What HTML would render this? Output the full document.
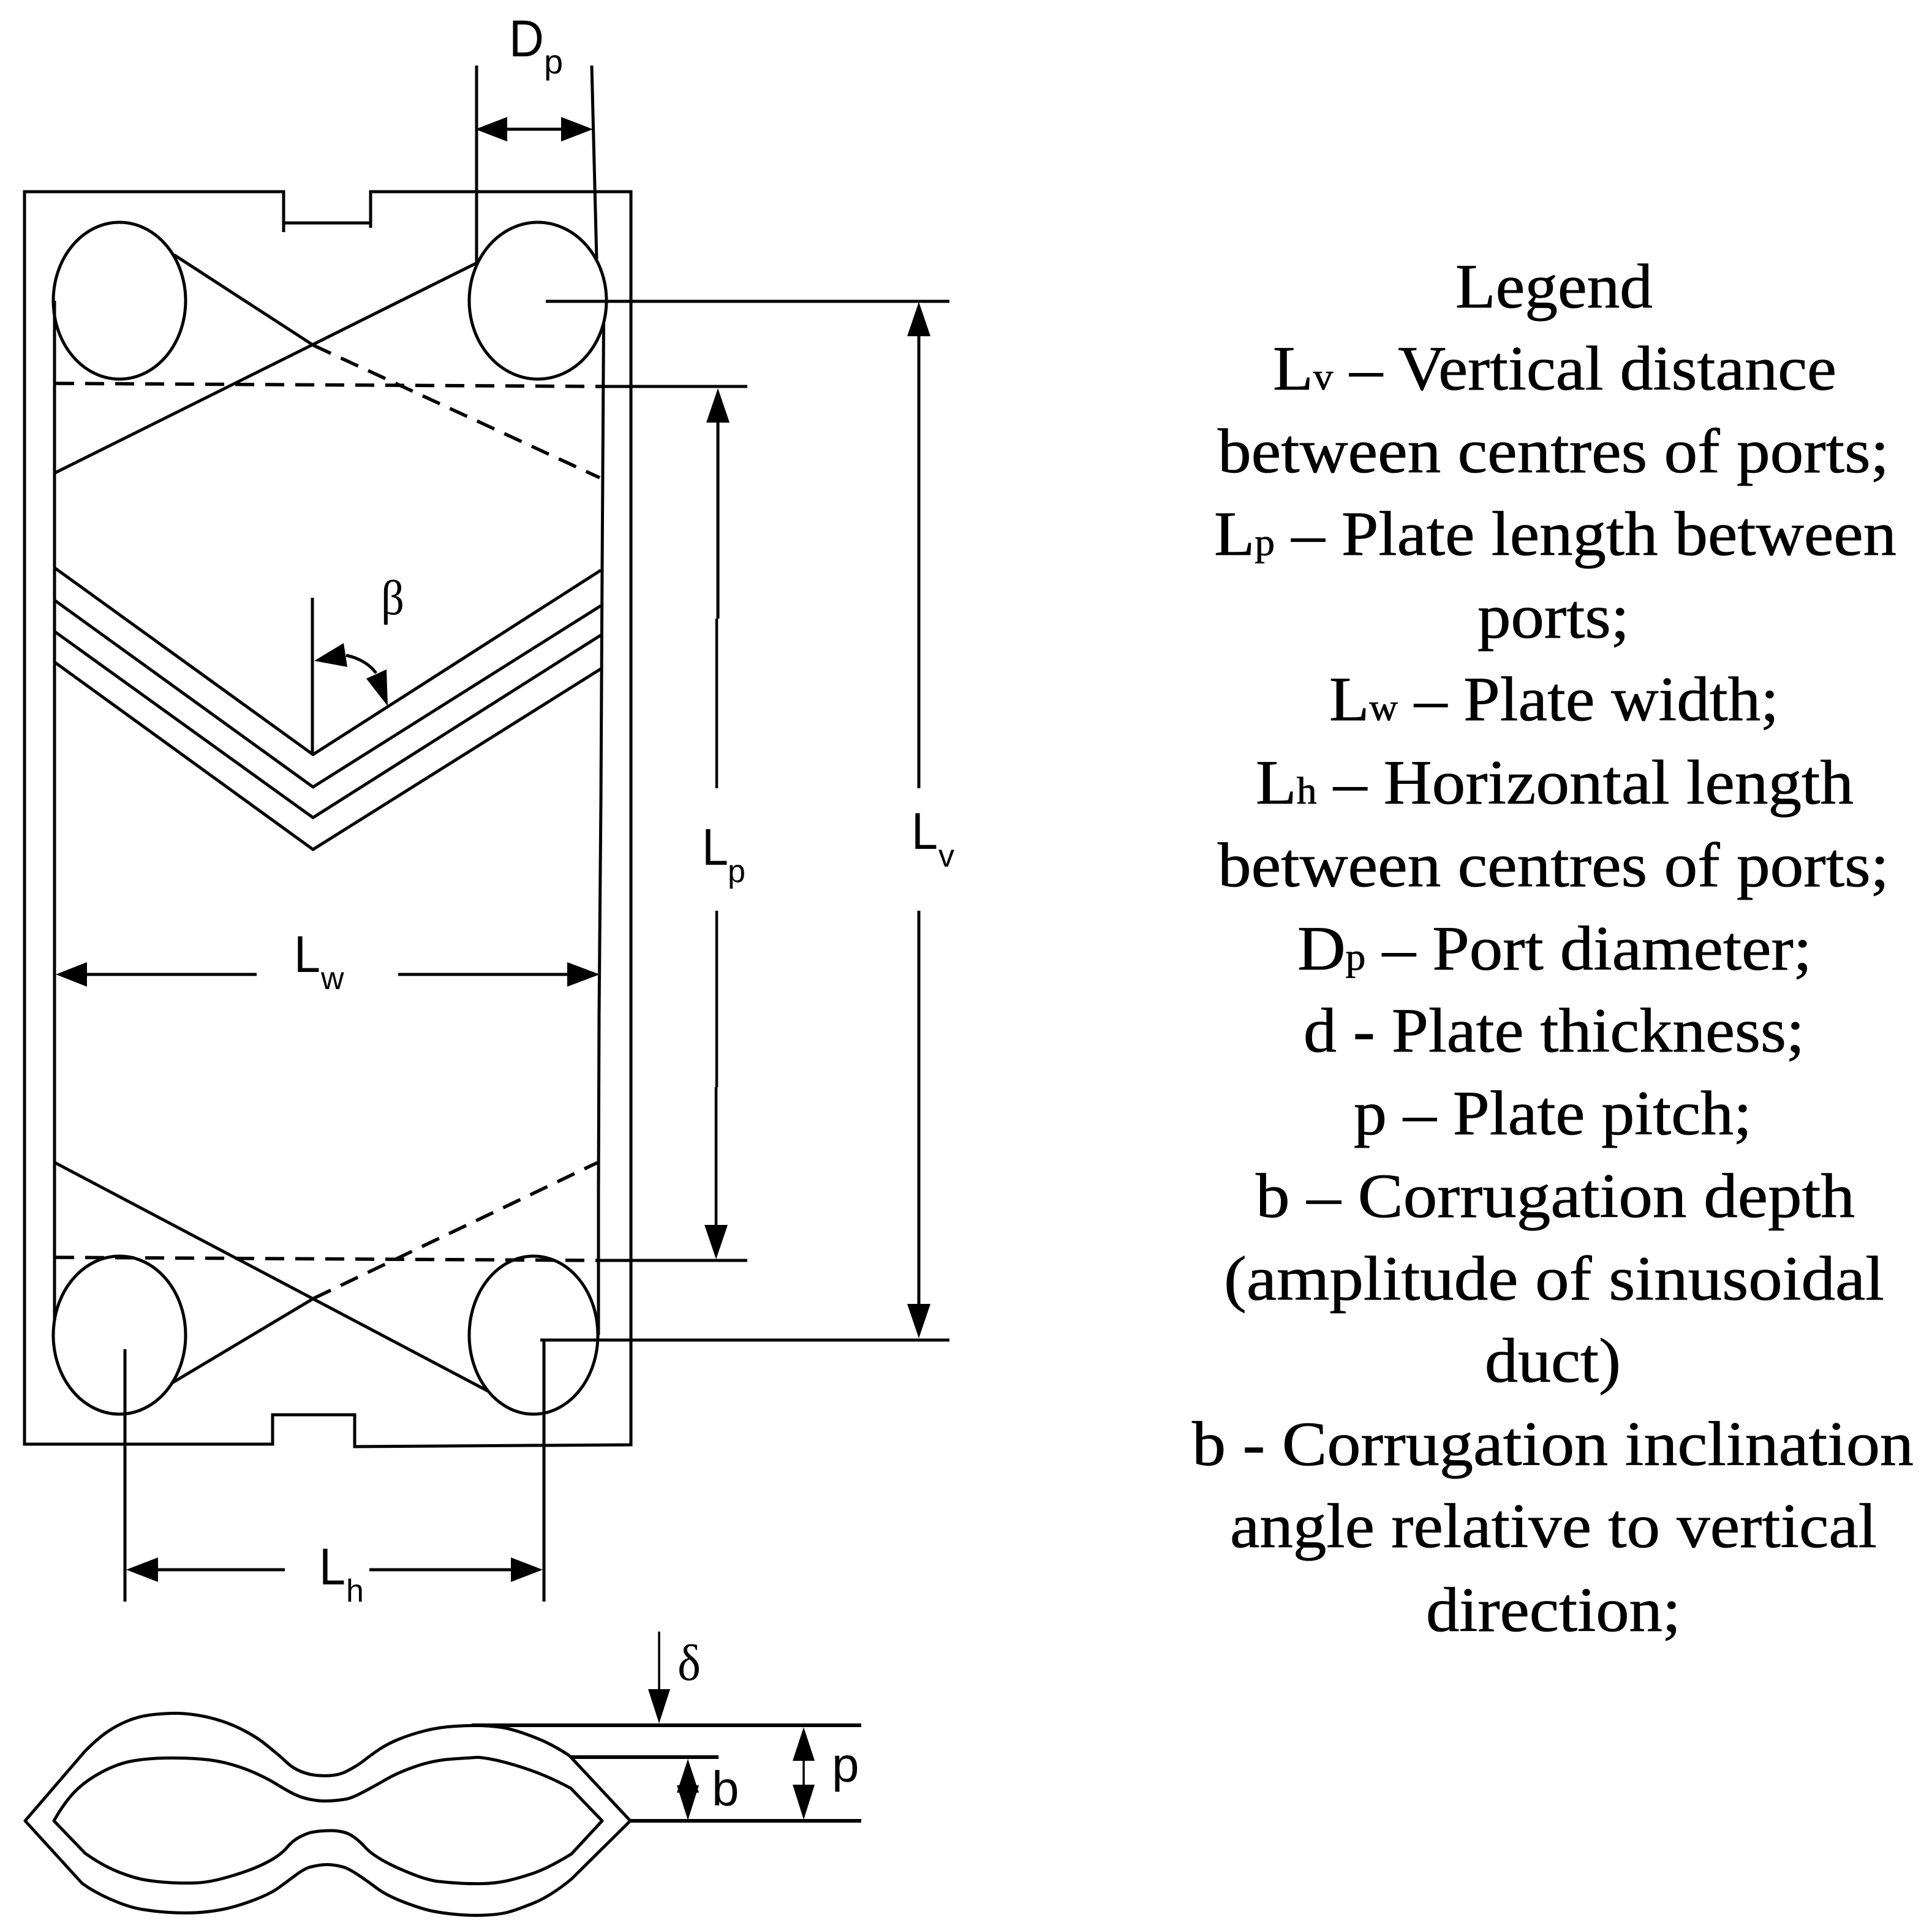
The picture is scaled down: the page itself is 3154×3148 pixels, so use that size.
<!DOCTYPE html>
<html>
<head>
<meta charset="utf-8">
<style>
html,body{margin:0;padding:0;background:#fff;}
svg{display:block;}
.s{fill:none;stroke:#000;stroke-width:5;stroke-linejoin:miter;}
.c{fill:none;stroke:#000;stroke-width:5;stroke-linejoin:round;}
.d{fill:none;stroke:#000;stroke-width:5.5;stroke-dasharray:31 18;}
.a{fill:#000;stroke:none;}
.t{font-family:"Liberation Sans",Arial,sans-serif;fill:#000;}
.g{font-family:"Liberation Serif",serif;fill:#000;}
.l{font-family:"Liberation Serif",serif;font-size:103px;fill:#000;stroke:#000;stroke-width:0.8px;}
.l tspan{font-size:62px;}
</style>
</head>
<body>
<svg width="3154" height="3148" viewBox="0 0 3154 3148" xmlns="http://www.w3.org/2000/svg">
<rect width="3154" height="3148" fill="#fff"/>

<!-- outer plate -->
<path class="s" d="M463 379 V313 H40 V2358 H445 V2310 H579 V2362 L1030 2359 V313 H605 V372 M463 364 H605"/>

<!-- inner side lines -->
<path class="s" d="M89 491 V2156"/>
<path class="s" d="M985.5 526 L983 930 L981 1306 L978 1657 L977 1950 L977 2180"/>

<!-- ports -->
<ellipse class="s" cx="195" cy="491" rx="108" ry="128"/>
<ellipse class="s" cx="878" cy="491" rx="112" ry="128"/>
<ellipse class="s" cx="195" cy="2180" rx="108" ry="129"/>
<ellipse class="s" cx="871" cy="2180" rx="105" ry="129"/>

<!-- top gasket lines -->
<path class="s" d="M284 416 L512 564"/>
<path class="d" d="M512 564 L979 780"/>
<path class="s" d="M779 429 L90 772"/>
<path class="d" d="M90 626 L982 631"/>
<path class="s" d="M982 631 H1220"/>

<!-- bottom gasket lines -->
<path class="s" d="M89 1898 L796 2271"/>
<path class="s" d="M281 2258 L512 2120"/>
<path class="d" d="M512 2120 L976 1898"/>
<path class="d" d="M90 2053 L975 2058"/>
<path class="s" d="M975 2058 H1220"/>

<!-- chevrons -->
<path class="s" d="M89 927 L511 1232 L981 931"/>
<path class="s" d="M89 980 L511 1285 L981 989"/>
<path class="s" d="M89 1031 L511 1335 L981 1037"/>
<path class="s" d="M89 1081 L511 1387 L981 1092"/>

<!-- beta -->
<path class="s" d="M510 976 V1232"/>
<path class="s" d="M565 1070 C585 1074 603 1084 614 1099"/>
<polygon class="a" points="513,1079 561,1050 567,1089"/>
<polygon class="a" points="633,1153 631,1093 598,1108"/>
<text class="g" x="622" y="1003" font-size="80" textLength="38" lengthAdjust="spacingAndGlyphs">β</text>

<!-- Dp -->
<path class="s" d="M778 107 V429"/>
<path class="s" d="M966 107 L974 423"/>
<path class="s" d="M820 211 H925"/>
<polygon class="a" points="776,211 828,191 828,231"/>
<polygon class="a" points="968,211 916,191 916,231"/>
<text class="t" x="831" y="92" font-size="84" textLength="57" lengthAdjust="spacingAndGlyphs">D</text>
<text class="t" x="888" y="120" font-size="56">p</text>

<!-- Lw -->
<path class="s" d="M130 1591 H419 M650 1591 H935"/>
<polygon class="a" points="91,1591 142,1571 142,1611"/>
<polygon class="a" points="979,1591 926,1571 926,1611"/>
<text class="t" x="480" y="1587" font-size="84" textLength="43" lengthAdjust="spacingAndGlyphs">L</text>
<text class="t" x="524" y="1615" font-size="52">w</text>

<!-- Lp -->
<path d="M1172 680 V1010" stroke="#000" stroke-width="5" fill="none"/>
<path class="s" d="M1170 1010 V1287 M1170 1487 V1775 M1169 1775 V2010" style="stroke-width:4.5"/>
<polygon class="a" points="1172,634 1153,690 1191,690"/>
<polygon class="a" points="1169,2056 1150,2000 1188,2000"/>
<text class="t" x="1146" y="1412" font-size="84" textLength="43" lengthAdjust="spacingAndGlyphs">L</text>
<text class="t" x="1188" y="1440" font-size="52">p</text>

<!-- Lv -->
<path class="s" d="M891 492 H1550"/>
<path d="M1500 540 V1287 M1500 1487 V2140" stroke="#000" stroke-width="5" fill="none"/>
<polygon class="a" points="1500,493 1481,549 1519,549"/>
<polygon class="a" points="1500,2185 1481,2129 1519,2129"/>
<path class="s" d="M882 2188 H1550"/>
<text class="t" x="1488" y="1386" font-size="84" textLength="43" lengthAdjust="spacingAndGlyphs">L</text>
<text class="t" x="1532" y="1415" font-size="52">v</text>

<!-- Lh -->
<path class="s" d="M204 2203 V2615"/>
<path class="s" d="M888 2188 V2615"/>
<path class="s" d="M250 2563 H465 M603 2563 H840"/>
<polygon class="a" points="206,2563 258,2543 258,2583"/>
<polygon class="a" points="886,2563 834,2543 834,2583"/>
<text class="t" x="521" y="2587" font-size="84" textLength="43" lengthAdjust="spacingAndGlyphs">L</text>
<text class="t" x="565" y="2615" font-size="52">h</text>

<!-- corrugation profile -->
<path class="c" d="M41 2973 L139 2859 Q160 2838 175.5 2827.5 Q191 2817 208 2810 Q225 2803 242.5 2800.5 Q260 2798 279 2797.5 Q298 2797 319 2800 Q340 2803 361.5 2810 Q383 2817 402 2827.5 Q421 2838 431.5 2846.5 Q442 2855 450.5 2862 Q459 2869 468.5 2878 Q478 2887 491.5 2892.5 Q505 2898 519.5 2899 Q534 2900 545 2898.5 Q556 2897 565 2892.5 Q574 2888 582 2883 Q590 2878 595.5 2873.5 Q601 2869 616 2858.5 Q631 2848 650.5 2840 Q670 2832 693.5 2826 Q717 2820 743.5 2818.5 Q770 2817 785 2817.5 Q800 2818 816 2820 Q832 2822 857.5 2831 Q883 2840 900 2849 Q917 2858 930 2867 L1029 2973 L933 3068 Q899 3096 870.5 3107.5 Q842 3119 828 3122.5 Q814 3126 792 3127 Q770 3128 747 3126 Q724 3124 706.5 3120.5 Q689 3117 660 3106 Q631 3095 614.5 3082.5 Q598 3070 583.5 3060.5 Q569 3051 560.5 3048.5 Q552 3046 543 3045 Q534 3044 525 3045 Q516 3046 506.5 3048.5 Q497 3051 483 3061.5 Q469 3072 454.5 3082.5 Q440 3093 411.5 3103.5 Q383 3114 361.5 3118 Q340 3122 319 3123 Q298 3124 275.5 3122.5 Q253 3121 231.5 3117.5 Q210 3114 181.5 3101.5 Q153 3089 134 3075 Z"/>
<path class="c" d="M88 2973 Q105 2943 122 2925.5 Q139 2908 165 2894 Q191 2880 215 2875.5 Q239 2871 268.5 2870.5 Q298 2870 326 2872 Q354 2874 378 2881 Q402 2888 421 2897 Q440 2906 449.5 2912 Q459 2918 473.5 2926 Q488 2934 501.5 2937 Q515 2940 524.5 2940.5 Q534 2941 545 2940 Q556 2939 565 2937.5 Q574 2936 593 2926 Q612 2916 631 2905 Q650 2894 679 2884 Q708 2874 739 2872 Q770 2870 776.5 2869.5 Q783 2869 800 2872 Q817 2875 842 2882.5 Q867 2890 888.5 2899 Q910 2908 932 2920 L983 2973 L933 3027 Q894 3051 868 3059.5 Q842 3068 825 3071.5 Q808 3075 789 3075.5 Q770 3076 752 3075 Q734 3074 716 3072 Q698 3070 669.5 3058.5 Q641 3047 623 3036.5 Q605 3026 596.5 3016.5 Q588 3007 578.5 3000 Q569 2993 559 2991 Q549 2989 541.5 2989 Q534 2989 526 2989.5 Q518 2990 510 2991.5 Q502 2993 490 2999 Q478 3005 468.5 3016.5 Q459 3028 440 3038.5 Q421 3049 397 3057 Q373 3065 354 3069.5 Q335 3074 316.5 3074.5 Q298 3075 279 3074 Q260 3073 240 3070 Q220 3067 193.5 3056.5 Q167 3046 139 3026 Z"/>

<!-- profile dimension lines -->
<path d="M770 2817 H1406 M933 2869 H1173 M1029 2973 H1406" stroke="#000" stroke-width="6" fill="none"/>

<!-- delta -->
<path class="s" d="M1076 2664 V2770" style="stroke-width:3.5"/>
<polygon class="a" points="1076,2814 1058,2758 1094,2758"/>
<text class="g" x="1106" y="2743" font-size="84" textLength="38" lengthAdjust="spacingAndGlyphs">δ</text>

<!-- p arrow -->
<path class="s" d="M1312 2870 V2920" style="stroke-width:3.5"/>
<polygon class="a" points="1312,2820 1294,2875 1330,2875"/>
<polygon class="a" points="1312,2971 1294,2914 1330,2914"/>
<text class="t" x="1358" y="2909" font-size="80">p</text>

<!-- b arrow -->
<polygon class="a" points="1123,2872 1105,2927 1141,2927"/>
<polygon class="a" points="1123,2972 1105,2915 1141,2915"/>
<text class="t" x="1162" y="2948" font-size="80">b</text>

<!-- legend -->
<text class="l" x="2376" y="502" textLength="322" lengthAdjust="spacingAndGlyphs">Legend</text>
<text class="l" x="2078" y="636" textLength="920" lengthAdjust="spacingAndGlyphs">L<tspan>v</tspan> – Vertical distance</text>
<text class="l" x="1988" y="771" textLength="1096" lengthAdjust="spacingAndGlyphs">between centres of ports;</text>
<text class="l" x="1982" y="906" textLength="1114" lengthAdjust="spacingAndGlyphs">L<tspan>p</tspan> – Plate length between</text>
<text class="l" x="2412" y="1041" textLength="248" lengthAdjust="spacingAndGlyphs">ports;</text>
<text class="l" x="2170" y="1176" textLength="734" lengthAdjust="spacingAndGlyphs">L<tspan>w</tspan> – Plate width;</text>
<text class="l" x="2050" y="1312" textLength="976" lengthAdjust="spacingAndGlyphs">L<tspan>h</tspan> – Horizontal length</text>
<text class="l" x="1988" y="1447" textLength="1096" lengthAdjust="spacingAndGlyphs">between centres of ports;</text>
<text class="l" x="2118" y="1583" textLength="840" lengthAdjust="spacingAndGlyphs">D<tspan>p</tspan> – Port diameter;</text>
<text class="l" x="2128" y="1717" textLength="818" lengthAdjust="spacingAndGlyphs">d - Plate thickness;</text>
<text class="l" x="2210" y="1852" textLength="650" lengthAdjust="spacingAndGlyphs">p – Plate pitch;</text>
<text class="l" x="2050" y="1987" textLength="978" lengthAdjust="spacingAndGlyphs">b – Corrugation depth</text>
<text class="l" x="1998" y="2122" textLength="1078" lengthAdjust="spacingAndGlyphs">(amplitude of sinusoidal</text>
<text class="l" x="2424" y="2256" textLength="222" lengthAdjust="spacingAndGlyphs">duct)</text>
<text class="l" x="1946" y="2392" textLength="1178" lengthAdjust="spacingAndGlyphs">b - Corrugation inclination</text>
<text class="l" x="2008" y="2526" textLength="1056" lengthAdjust="spacingAndGlyphs">angle relative to vertical</text>
<text class="l" x="2328" y="2663" textLength="416" lengthAdjust="spacingAndGlyphs">direction;</text>
</svg>
</body>
</html>
